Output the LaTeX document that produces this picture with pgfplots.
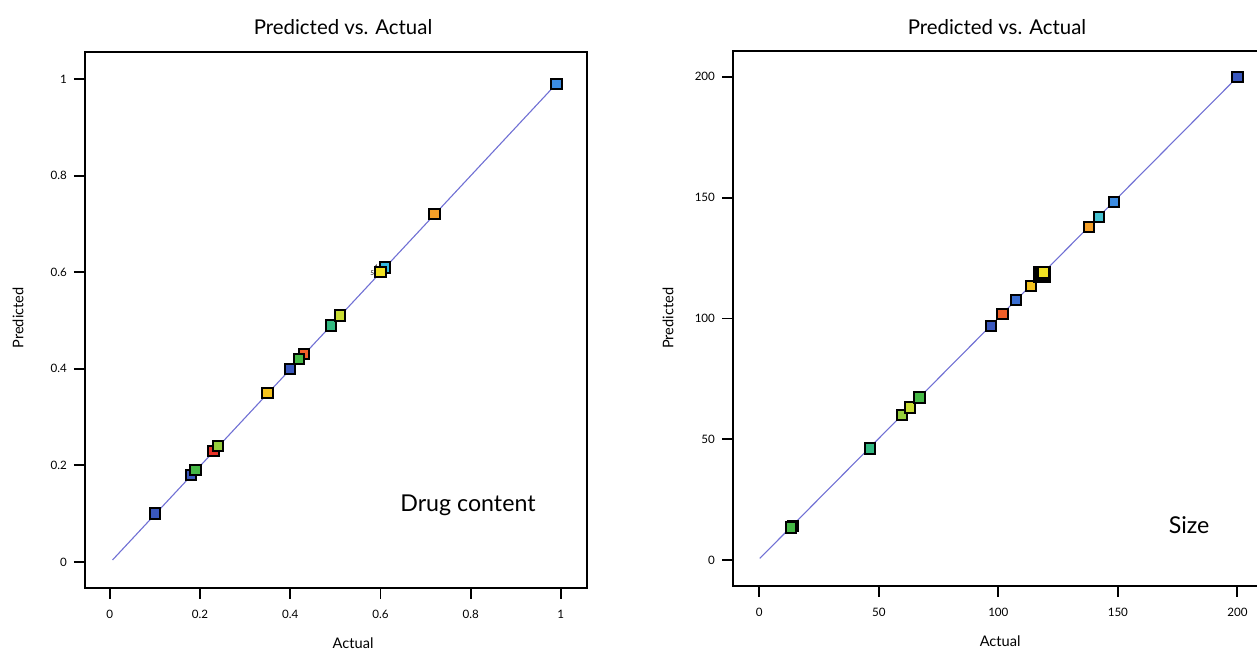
\documentclass[border=0pt]{standalone}
\usepackage{fontspec}
\setmainfont{Lato}
\usepackage{pgfplots}
\pgfplotsset{compat=1.18}
\usepackage{pgfplotstable}

\definecolor{fitline}{RGB}{112,112,212}
\definecolor{cBlue}{RGB}{58,88,190}
\definecolor{cBlueL}{RGB}{60,140,225}
\definecolor{cBlueM}{RGB}{58,110,210}
\definecolor{cCyan}{RGB}{50,185,225}
\definecolor{cCyanL}{RGB}{70,195,210}
\definecolor{cGreen}{RGB}{70,185,70}
\definecolor{cTeal}{RGB}{50,185,130}
\definecolor{cYG}{RGB}{150,205,60}
\definecolor{cYG2}{RGB}{200,220,50}
\definecolor{cYellow}{RGB}{240,225,35}
\definecolor{cGold}{RGB}{245,195,30}
\definecolor{cOrange}{RGB}{245,160,40}
\definecolor{cOrRed}{RGB}{240,95,40}
\definecolor{cRed}{RGB}{232,50,40}
\definecolor{cBrown}{RGB}{80,30,30}

% Drug content: actual, predicted, colour class
\pgfplotstableread{
x y c
0.10 0.10 blue
0.18 0.18 blue
0.19 0.19 green
0.23 0.23 red
0.24 0.24 yg
0.35 0.35 gold
0.40 0.40 blue
0.43 0.43 orred
0.42 0.42 green
0.49 0.49 teal
0.51 0.51 yg2
0.61 0.61 cyan
0.60 0.60 yellow
0.72 0.72 orange
0.99 0.99 bluel
}\drugdata

% Size: actual, predicted, colour class
\pgfplotstableread{
x y c
14.0 14.2 brown
13.2 13.5 green
46.4 46.2 teal
59.7 60.0 yg
63.1 63.2 yg2
67.0 67.3 green
97.0 96.9 blue
101.7 101.8 orred
107.4 107.6 bluem
113.6 113.5 gold
118.3 118.3 blk
118.9 119.0 yellow
138.0 137.9 orange
142.0 142.0 cyanl
148.5 148.2 bluel
200.0 199.9 blue
}\sizedata

\pgfplotsset{
  pva/.style={
    scale only axis,
    clip=false,
    axis line style={line width=1pt},
    tick style={line width=0.9pt, black},
    tick align=outside,
    tick pos=left,
    major tick length=5.5pt,
    tick label style={font=\fontsize{5.8}{6.5}\selectfont},
    xticklabel style={yshift=-2pt},
    /pgf/number format/assume math mode=true,
    title style={font=\fontsize{10.2}{12}\selectfont, anchor=center, yshift=-6pt},
    xlabel style={font=\fontsize{7.3}{9}\selectfont, anchor=center},
    ylabel style={font=\fontsize{7.3}{9}\selectfont, anchor=center},
    title={Predicted vs. Actual},
    xlabel={Actual},
    ylabel={Predicted},
  },
  pts/.style={
    scatter, only marks, mark=square*, mark size=2.6pt,
    point meta=explicit symbolic,
    scatter/classes={
      blue={draw=black,fill=cBlue},
      bluel={draw=black,fill=cBlueL},
      bluem={draw=black,fill=cBlueM},
      cyan={draw=black,fill=cCyan},
      cyanl={draw=black,fill=cCyanL},
      green={draw=black,fill=cGreen},
      teal={draw=black,fill=cTeal},
      yg={draw=black,fill=cYG},
      yg2={draw=black,fill=cYG2},
      yellow={draw=black,fill=cYellow},
      gold={draw=black,fill=cGold},
      orange={draw=black,fill=cOrange},
      orred={draw=black,fill=cOrRed},
      red={draw=black,fill=cRed},
      brown={draw=black,fill=cBrown},
      blk={draw=black,fill=black,mark size=3.8pt}
    },
    every mark/.append style={line width=1pt},
  },
}

\begin{document}
\begin{tikzpicture}
\useasboundingbox (0pt,0pt) rectangle (628.5pt,325.5pt);
\begin{axis}[pva,
  at={(42.5pt,31.5pt)}, anchor=south west,
  width=251pt, height=268pt,
  xmin=-0.055, xmax=1.058, ymin=-0.054, ymax=1.056,
  xtick={0,0.2,0.4,0.6,0.8,1}, ytick={0,0.2,0.4,0.6,0.8,1},
  title style={at={(0.514,1.0466)}},
  xlabel style={at={(0.534,-0.1026)}},
  ylabel style={at={(-0.1335,0.504)}},
]
\addplot[pts] table[x=x, y=y, meta=c] {\drugdata};
\addplot[color=fitline, line width=0.55pt] coordinates {(0.006,0.004) (0.99,0.99)};
\node[font=\fontsize{3.2}{4}\selectfont, inner sep=0pt] at (axis cs:0.582,0.598) {5};
\node[font=\fontsize{3.2}{4}\selectfont, inner sep=0pt] at (axis cs:0.590,0.611) {4};
\node[font=\fontsize{11.6}{14}\selectfont] at (axis cs:0.794,0.118) {Drug content};
\end{axis}

\begin{axis}[pva,
  at={(366.5pt,32.65pt)}, anchor=south west,
  width=264.5pt, height=267.5pt,
  xmin=-11, xmax=210.3, ymin=-10.6, ymax=210.8,
  xtick={0,50,100,150,200}, ytick={0,50,100,150,200},
  title style={at={(0.499,1.044)}},
  xlabel style={at={(0.505,-0.103)}},
  ylabel style={at={(-0.123,0.5)}},
]
\addplot[pts] table[x=x, y=y, meta=c] {\sizedata};
\addplot[color=fitline, line width=0.55pt] coordinates {(0.2,0.7) (200,199.9)};
\node[font=\fontsize{11.6}{14}\selectfont] at (axis cs:179.8,14.5) {Size};
\end{axis}
\end{tikzpicture}
\end{document}
